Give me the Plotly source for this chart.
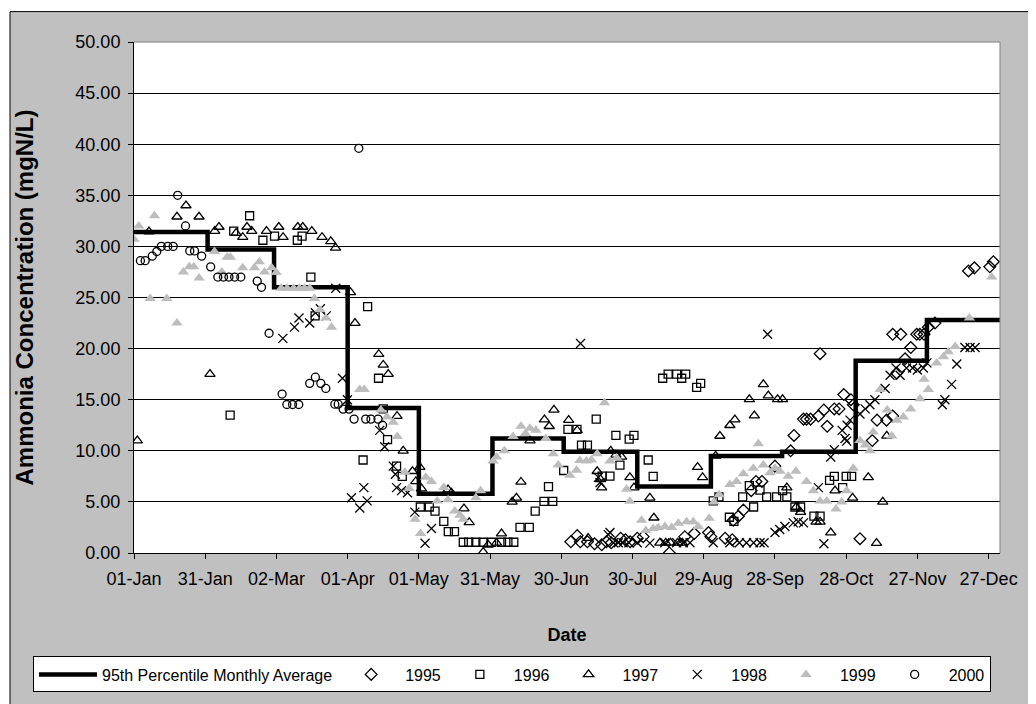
import pandas as pd
import plotly.graph_objects as go

BASE = pd.Timestamp("2001-01-01")

# 95th percentile monthly average (step line), value per month
month_starts = ["2001-01-01", "2001-02-01", "2001-03-01", "2001-04-01", "2001-05-01", "2001-06-01",
                "2001-07-01", "2001-08-01", "2001-09-01", "2001-10-01", "2001-11-01", "2001-12-01",
                "2002-01-01"]
p95_monthly = [31.4, 29.7, 26.0, 14.2, 5.8, 11.2, 9.9, 6.5, 9.5, 9.9, 18.8, 22.8, 22.8]

# day-of-year offsets (days after 01-Jan) and concentrations
d1995 = [184, 186.7, 188, 191, 194, 197, 199, 201, 205, 207, 209, 212, 214.5, 225.5, 232, 236, 242, 243,
         249, 252, 252.4, 254.6, 256.7, 260, 262, 264.5, 270, 276.6, 278, 282, 283.3, 285, 288.3, 289,
         290.6, 292, 295, 297, 299, 302, 303, 305.8, 311, 313, 317, 319.6, 319.6, 321.3, 323, 324.8,
         327.2, 329.7, 331, 332.8, 334.6, 337.4, 351.5, 354, 360.5, 362]
v1995 = [1.1, 1.7, 1.1, 1.1, 0.9, 0.8, 1.1, 1.0, 1.45, 1.3, 1.1, 1.45, 1.6, 0.0, 1.6, 1.9, 2.0, 1.6,
         1.45, 1.3, 3.2, 3.6, 4.2, 6.1, 7.0, 7.0, 8.5, 10.0, 11.5, 13.1, 13.1, 13.1, 13.4, 19.5,
         14.0, 12.4, 14.1, 14.1, 15.5, 15.0, 14.5, 1.4, 11.0, 13.0, 13.0, 13.4, 21.4, 17.6, 21.4, 19.0,
         20.1, 21.4, 21.4, 21.4, 22.1, 22.5, 27.6, 27.9, 28.0, 28.5]

d1996 = [40.5, 42, 48.7, 54.3, 59.2, 68.8, 70.8, 74.5, 76.3, 96.5, 98.4, 103, 105, 106.8, 110.6, 113,
         120.6, 124.4, 126.8, 130.5, 132.4, 135, 138.7, 141, 144, 147, 150.6, 154.8, 157.5, 160, 162.6,
         166.5, 169, 172.7, 174.6, 176.4, 181, 182.8, 186.6, 188.5, 191, 194.7, 197.2, 200.5, 203, 204.7,
         208.6, 210.6, 216.6, 218.7, 222.7, 225, 228.6, 230.7, 232.4, 237, 238.7, 244, 246.4, 250.8,
         252.7, 256.4, 259.2, 261, 263.7, 266.5, 270.7, 273.2, 275, 278.4, 280.8, 286.4, 289, 293, 295,
         298.5, 300, 302.3]
v1996 = [13.5, 31.5, 33.0, 30.6, 31.0, 30.6, 31.0, 27.0, 23.2, 9.1, 24.1, 17.1, 14.1, 11.1, 8.5, 7.5,
         4.5, 4.5, 4.1, 3.1, 2.1, 2.1, 1.05, 1.05, 1.05, 1.05, 1.05, 1.05, 1.05, 1.05, 2.5,
         2.5, 4.1, 5.06, 6.5, 5.06, 8.07, 12.1, 12.1, 10.56, 10.56, 13.1, 7.53, 7.53, 11.5, 8.6,
         11.15, 11.5, 9.1, 7.5, 17.1, 17.5, 17.5, 17.1, 17.5, 16.2, 16.6, 5.1, 5.5, 3.5,
         3.1, 5.5, 6.6, 4.5, 6.15, 5.5, 5.5, 6.1, 5.5, 4.5, 4.5, 3.6, 3.6, 7.1, 7.5,
         6.4, 7.5, 7.5]

d1997 = [1.4, 6.3, 18.1, 21.9, 27.4, 32.0, 34.0, 35.8, 43, 45.8, 47.6, 49.6, 55.8, 61, 62.8, 69, 71.1,
         74.9, 79.2, 82.9, 84.9, 91.2, 93.1, 103.1, 105, 107.1, 110.8, 113.4, 117.3, 118.7, 120.4, 121.1,
         132.3, 133.7, 139, 141.2, 147.1, 149.2, 152.7, 154.8, 159.3, 161.1, 163, 166.8, 172.9, 174.9,
         176.9, 183.1, 186.7, 191.3, 195.1, 196.5, 197, 200.8, 203, 205.4, 208.9, 210.6, 217.3, 219,
         221.5, 224, 226, 229, 231, 237.4, 239.5, 245, 246.8, 251, 253.1, 259.2, 261.3, 265.1, 267.2,
         271.1, 273.2, 275, 278.9, 280.8, 287.3, 289, 293.5, 295.3, 302.7, 309.3, 312.8, 315.4, 317.1]
v1997 = [11.0, 31.45, 32.9, 34.0, 32.9, 17.5, 31.5, 31.9, 31.3, 30.9, 31.9, 31.5, 31.5, 31.9, 30.9, 31.9, 31.9,
         31.5, 30.9, 30.5, 29.85, 25.5, 22.5, 19.45, 18.4, 17.5, 13.4, 10.0, 8.0, 7.0, 8.4, 6.3,
         6.2, 5.9, 4.35, 3.0, 0.1, 0.8, 1.0, 1.9, 5.0, 5.4, 6.95, 11.0, 13.05, 12.4,
         14.0, 13.0, 12.0, 1.45, 8.0, 7.2, 6.4, 10.0, 9.6, 9.4, 7.4, 6.4, 5.4, 3.45,
         1.0, 1.0, 1.0, 1.0, 1.0, 8.4, 7.4, 9.5, 11.45, 12.5, 13.06, 15.04, 13.44, 16.5, 15.4,
         15.04, 15.04, 6.4, 4.5, 4.0, 3.05, 3.05, 2.0, 6.1, 5.4, 7.4, 0.97, 5.0, 11.46]

d1998 = [62.7, 67.6, 69.5, 74, 76.4, 78.5, 81, 85, 87.8, 89.9, 91.6, 95.1, 96.8, 98.2, 103.5, 105.6, 109.2,
         110.1, 110.6, 112.7, 115.2, 118.3, 122.6, 125.3, 188.1, 195.6, 196.3, 199.8, 200.5, 202, 204,
         206, 208.5, 212, 217.3, 223.6, 228.6, 231.4, 234.2, 244, 251, 255, 258, 261, 263.7, 265.4,
         266.9, 270, 272, 274.2, 277.7, 279.8, 282, 288.3, 290.6, 293.5, 295, 298.3, 299.5, 300.2,
         300.4, 301.6, 305.8, 308, 310, 312.1, 316.4, 318.5, 321, 322.7, 325.4, 328, 330, 332.5, 334,
         340.5, 341.6, 344.4, 346.6, 350, 352.2, 354.3]
v1998 = [21.0, 22.1, 23.0, 22.5, 23.5, 23.9, 23.2, 25.9, 17.1, 15.0, 5.4, 4.4, 6.4, 5.1, 12.0, 10.4, 8.5,
         7.7, 6.4, 6.1, 5.9, 4.0, 0.96, 2.4, 20.5, 7.4, 6.9, 1.8, 2.0, 1.0, 1.0,
         1.0, 1.0, 1.0, 0.97, 1.0, 1.0, 1.0, 1.0, 1.0, 1.0, 1.0, 1.0, 1.0, 1.0, 1.0,
         21.4, 2.0, 2.3, 2.6, 2.95, 3.05, 2.95, 6.4, 0.9, 9.4, 10.1, 12.0, 11.2, 10.95,
         12.5, 13.0, 13.6, 14.1, 14.5, 15.0, 16.1, 17.4, 18.1, 17.4, 18.1, 18.1, 17.9, 18.1, 18.6,
         14.5, 15.0, 16.5, 18.5, 20.1, 20.1, 20.1]

d1999 = [0, 2, 6.8, 8.6, 13.8, 18.1, 20.8, 23.3, 25.2, 27.4, 33.9, 37, 39.2, 40.6, 45.8, 50.7, 52.8, 55,
         58, 59.9, 62, 64.5, 67.2, 69.7, 71.8, 74, 76, 78.3, 80.8, 83.2, 95.1, 97, 104, 106.6, 109.2,
         110.9, 114.1, 115.9, 118.4, 120.7, 122.9, 125.3, 127.7, 130.5, 132.3, 135.1, 137.3, 138.7, 144,
         146, 151.3, 152.7, 156, 159.7, 163, 164.9, 166.8, 169.3, 173.5, 176.6, 178.7, 183.6, 186.4,
         187.8, 190.6, 192.7, 195.1, 198.2, 200.5, 203.3, 207.5, 208.9, 213.8, 215.6, 218.7, 220.8,
         223.6, 226.5, 229.3, 232.8, 235.6, 237.7, 242.3, 244.3, 246.5, 251, 253.8, 256.7, 260.9, 263,
         265.1, 267.9, 270, 272.1, 275.6, 278.8, 283.3, 286.2, 289, 291.8, 295.7, 298.1, 300.2, 303,
         305.8, 308, 310, 311.4, 314.3, 317.3, 319.2, 321.3, 324.1, 327.2, 331.1, 332.8, 334.6, 338.1,
         341, 343, 345.9, 351.9, 361.3]
v1999 = [30.7, 32.0, 24.9, 33.0, 24.9, 22.5, 27.5, 28.0, 28.0, 26.9, 29.5, 27.5, 28.95, 28.95, 27.9, 27.9, 28.5, 27.5,
         27.9, 27.45, 25.9, 25.9, 25.9, 25.9, 25.9, 25.9, 24.9, 23.8, 23.0, 22.1, 16.0, 16.0, 14.0, 13.3, 12.8,
         11.4, 7.9, 6.3, 3.3, 1.9, 7.4, 7.0, 5.1, 6.4, 5.2, 4.1, 3.7, 3.3, 5.4,
         6.1, 9.0, 9.4, 10.0, 11.4, 12.4, 11.7, 12.2, 12.0, 11.2, 9.7, 8.6, 7.6, 8.1,
         9.05, 9.0, 9.1, 9.7, 14.7, 9.0, 9.3, 6.25, 5.06, 3.2, 2.2, 2.4, 2.5,
         2.6, 2.5, 2.9, 3.05, 3.05, 2.6, 3.4, 5.0, 5.7, 6.7, 7.0, 7.75, 8.3, 10.7,
         8.6, 7.85, 8.3, 8.0, 7.5, 8.0, 7.0, 6.1, 5.1, 5.1, 4.3, 5.0, 6.1, 8.3,
         11.0, 10.56, 10.0, 11.84, 16.0, 14.0, 11.46, 13.0, 13.3, 14.1, 15.1, 17.0, 16.0, 18.6,
         19.2, 19.7, 20.2, 23.0, 27.0]

d2000 = [2.7, 4.7, 7.7, 9.6, 11.5, 14.2, 16.5, 18.4, 21.7, 23.5, 25.5, 28.5, 32.3, 35.3, 37.7, 40.0, 42.4,
         45.0, 51.9, 53.7, 56.9, 62.4, 64.4, 66.8, 69.4, 74.0, 76.4, 78.7, 80.8, 84.6, 86.0, 88.1, 90.6,
         92.7, 94.7, 97.6, 99.8, 102.8, 104.7]
v2000 = [28.6, 28.6, 29.05, 29.5, 30.0, 30.0, 30.0, 35.0, 32.0, 29.56, 29.56, 29.05, 28.0, 27.0, 27.0, 27.0, 27.0,
         27.0, 26.6, 26.0, 21.5, 15.55, 14.53, 14.53, 14.53, 16.6, 17.2, 16.6, 16.1, 14.56, 14.56, 14.08, 14.08,
         13.1, 39.6, 13.1, 13.1, 13.1, 12.5]

x_tick_start = "2001-01-01"
x_range = ["2001-01-01", "2001-12-31 19:00"]
y_range = [0, 50]


def to_dates(days):
    return [BASE + pd.Timedelta(days=float(d)) for d in days]


FONT = "Arial, Liberation Sans, sans-serif"
fig = go.Figure()

fig.add_trace(go.Scatter(x=month_starts, y=p95_monthly, mode="lines", line_shape="hv",
                         line=dict(color="black", width=4.5),
                         name="95th Percentile Monthly Average"))

series = [
    ("1995", d1995, v1995, "diamond-open", 9, "black"),
    ("1996", d1996, v1996, "square-open", 8, "black"),
    ("1997", d1997, v1997, "triangle-up-open", 9, "black"),
    ("1998", d1998, v1998, "x-thin-open", 9, "black"),
    ("1999", d1999, v1999, "triangle-up", 10, "#BDBDBD"),
    ("2000", d2000, v2000, "circle-open", 8, "black"),
]
for name, dd, vv, sym, size, col in series:
    if sym == "triangle-up":
        marker = dict(symbol=sym, size=size, color=col, line=dict(width=0))
    else:
        marker = dict(symbol=sym, size=size, color=col, line=dict(width=1.3, color=col))
    fig.add_trace(go.Scatter(x=to_dates(dd), y=vv, mode="markers", name=name, marker=marker))

# page has an 8px body margin, so figure coordinates are page coordinates minus 8
OFF = 8
W, H = 1036 - OFF, 704 - OFF
L = 134 - OFF
T = 42 - OFF
R = W - (1000 - OFF)
B = H - (563.4 - OFF)
pw, ph = W - L - R, H - T - B


def px_x(p):  # page x -> paper
    return (p - OFF - L) / pw


def px_y(p):  # page y -> paper
    return (H - B - (p - OFF)) / ph


shapes = [
    # white strips outside chart-area border (top / left)
    dict(type="rect", xref="paper", yref="paper", x0=px_x(0), x1=px_x(1100), y0=px_y(11), y1=px_y(0),
         fillcolor="white", line=dict(width=0), layer="below"),
    dict(type="rect", xref="paper", yref="paper", x0=px_x(0), x1=px_x(10), y0=px_y(730), y1=px_y(0),
         fillcolor="white", line=dict(width=0), layer="below"),
    # chart-area border
    dict(type="rect", xref="paper", yref="paper", x0=px_x(10), x1=px_x(1100), y0=px_y(730), y1=px_y(11),
         fillcolor="rgba(0,0,0,0)", line=dict(color="black", width=1), layer="below"),
    # plot-area grey border (top and right)
    dict(type="path", xref="paper", yref="paper", path="M0,1 L1,1 L1,0",
         line=dict(color="#808080", width=1), layer="above"),
]

fig.update_layout(
    width=W, height=H,
    margin=dict(l=L, r=R, t=T, b=B),
    paper_bgcolor="#C0C0C0",
    plot_bgcolor="white",
    font=dict(family=FONT, color="black", size=18),
    shapes=shapes,
    showlegend=True,
    legend=dict(orientation="h", x=px_x(33), y=px_y(669), xanchor="left", yanchor="top",
                bgcolor="white", bordercolor="black", borderwidth=1,
                font=dict(family=FONT, size=16, color="black"),
                itemwidth=58, tracegroupgap=0),
    xaxis=dict(
        type="date", range=x_range, tick0=x_tick_start, dtick=30 * 86400000,
        tickformat="%d-%b", ticks="outside", ticklen=5, tickcolor="black",
        showline=True, linecolor="black", linewidth=1, showgrid=False, zeroline=False,
        tickfont=dict(size=18), ticklabelstandoff=4,
        title=dict(text="<b>Date</b>", font=dict(size=18), standoff=40),
        automargin=False,
    ),
    yaxis=dict(
        range=y_range, dtick=5, tickformat=".2f", ticks="outside", ticklen=5, tickcolor="black",
        showline=True, linecolor="black", linewidth=1, showgrid=True, gridcolor="black", gridwidth=1,
        zeroline=False, tickfont=dict(size=18), ticklabelstandoff=4,
        title=dict(text="<b>Ammonia Concentration (mgN/L)</b>", font=dict(size=24), standoff=34),
        automargin=False,
    ),
)

fig.write_html("out.html")
